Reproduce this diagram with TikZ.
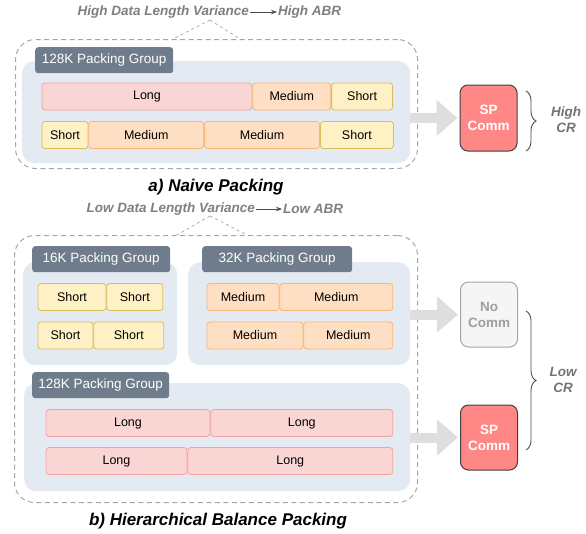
\documentclass[tikz,border=0pt]{standalone}
\usepackage{fontspec}
\setmainfont{Liberation Sans}
\usetikzlibrary{positioning,arrows.meta,decorations.pathreplacing}

\definecolor{panelbg}{HTML}{E3EAF1}
\definecolor{tagbg}{HTML}{6F7C8B}
\definecolor{longfill}{HTML}{F9D6D4}
\definecolor{longline}{HTML}{F4A3A0}
\definecolor{medfill}{HTML}{FFDFC3}
\definecolor{medline}{HTML}{FBB574}
\definecolor{shortfill}{HTML}{FFF1C6}
\definecolor{shortline}{HTML}{DDBB5E}
\definecolor{spfill}{HTML}{FF8886}
\definecolor{nofill}{HTML}{F5F5F5}
\definecolor{dashgray}{HTML}{A6A6A6}
\definecolor{capgray}{HTML}{7F7F7F}
\definecolor{fatarrow}{HTML}{DEDEDE}

\tikzset{
  seg/.style={rounded corners=3pt, line width=0.8pt, minimum height=27, inner sep=0pt, font=\fontsize{12.5}{13}\selectfont},
  longbox/.style={seg, fill=longfill, draw=longline},
  medbox/.style={seg, fill=medfill, draw=medline},
  shortbox/.style={seg, fill=shortfill, draw=shortline},
  panel/.style={fill=panelbg, rounded corners=12pt, anchor=north west, inner sep=0pt},
  tag/.style={fill=tagbg, text=white, rounded corners=3pt, anchor=north west, inner sep=0pt, minimum height=26, font=\fontsize{13.5}{14}\selectfont},
  outline/.style={draw=dashgray, dash pattern=on 5pt off 3.5pt, line width=1pt, rounded corners=20pt, anchor=north west, inner sep=0pt},
  header/.style={text=capgray, inner sep=1pt, font=\fontsize{13.5}{14}\bfseries\itshape\selectfont},
  title/.style={font=\fontsize{17}{18}\bfseries\itshape\selectfont},
  comm/.style={rounded corners=8pt, line width=1pt, minimum width=57, minimum height=66, align=center, inner sep=0pt, font=\fontsize{13.5}{16}\bfseries\selectfont},
  spcomm/.style={comm, fill=spfill, draw=black!75, text=white},
  nocomm/.style={comm, fill=nofill, draw=black!35, text=black!38},
  flow/.style={draw=fatarrow, line width=10pt, -{Triangle[length=21pt,width=35pt]}, shorten >=2pt},
  crtext/.style={text=black!55, align=center, font=\fontsize{13.5}{16}\bfseries\itshape\selectfont},
  crbrace/.style={draw=black!70, line width=0.9pt, decorate, decoration={brace, amplitude=10pt}},
  hint/.style={draw=dashgray, dash pattern=on 3pt off 3pt, line width=0.7pt},
}

\begin{document}
\begin{tikzpicture}[x=1pt,y=-1pt]
  \useasboundingbox (0,0) rectangle (586,533);

  % a) naive packing
  \node[header, anchor=east] (varA) at (250,12) {High Data Length Variance};
  \node[header, anchor=west] (abrA) at (277,12) {High ABR};
  \draw[-{Stealth[length=6pt]}, black!70, line width=0.8pt] (varA) -- (abrA);
  \node[outline, minimum width=402, minimum height=129] (boxA) at (15,39) {};
  \coordinate (tipA) at (210,20);
  \coordinate (footAl) at (173,39);
  \coordinate (footAr) at (240,39);
  \draw[hint] (tipA) -- (footAl);
  \draw[hint] (tipA) -- (footAr);

  \node[panel, minimum width=388, minimum height=102] (panA) at (22,61) {};
  \node[tag, minimum width=138] (tagA) at (35,47) {128K Packing Group};

  \node[longbox, minimum width=210] (a1) at (147,96.5) {Long};
  \node[medbox, minimum width=78, right=0pt of a1] (a2) {Medium};
  \node[shortbox, minimum width=61, right=0pt of a2] (a3) {Short};
  \node[shortbox, minimum width=46] (a4) at (65,135) {Short};
  \node[medbox, minimum width=115, right=0pt of a4] (a5) {Medium};
  \node[medbox, minimum width=115, right=0pt of a5] (a6) {Medium};
  \node[shortbox, minimum width=73, right=0pt of a6] (a7) {Short};

  \node[spcomm] (spA) at (488.5,118) {SP\\Comm};
  \draw[flow] (panA.east |- spA.west) -- (spA.west);
  \draw[crbrace] (526,91) -- (526,151);
  \node[crtext] (crA) at (566,120) {High\\CR};

  \node[title] (ttlA) at (216,187) {a) Naive Packing};

  % b) hierarchical balance packing
  \node[header, anchor=east] (varB) at (256,209) {Low Data Length Variance};
  \node[header, anchor=west] (abrB) at (282,209) {Low ABR};
  \draw[-{Stealth[length=6pt]}, black!70, line width=0.8pt] (varB) -- (abrB);
  \node[outline, minimum width=403, minimum height=267] (boxB) at (14,235) {};
  \coordinate (tipB) at (210,216);
  \coordinate (footBl) at (177,235);
  \coordinate (footBr) at (247,235);
  \draw[hint] (tipB) -- (footBl);
  \draw[hint] (tipB) -- (footBr);

  \node[panel, minimum width=154, minimum height=103] (panS) at (23,262) {};
  \node[tag, minimum width=138] (tagS) at (32,246) {16K Packing Group};
  \node[shortbox, minimum width=68] (s1) at (72,297) {Short};
  \node[shortbox, minimum width=56, right=0pt of s1] (s2) {Short};
  \node[shortbox, minimum width=55] (s3) at (65.5,335.5) {Short};
  \node[shortbox, minimum width=70, right=0pt of s3] (s4) {Short};

  \node[panel, minimum width=222, minimum height=103] (panM) at (188,262) {};
  \node[tag, minimum width=150] (tagM) at (202,246) {32K Packing Group};
  \node[medbox, minimum width=72] (m1) at (243,297) {Medium};
  \node[medbox, minimum width=113, right=0pt of m1] (m2) {Medium};
  \node[medbox, minimum width=96] (m3) at (255,335.5) {Medium};
  \node[medbox, minimum width=89, right=0pt of m3] (m4) {Medium};

  \node[panel, minimum width=386, minimum height=108] (panL) at (24,383) {};
  \node[tag, minimum width=137] (tagL) at (32,372) {128K Packing Group};
  \node[longbox, minimum width=164] (l1) at (128,423) {Long};
  \node[longbox, minimum width=182, right=0pt of l1] (l2) {Long};
  \node[longbox, minimum width=141] (l3) at (116.5,461) {Long};
  \node[longbox, minimum width=205, right=0pt of l3] (l4) {Long};

  \node[nocomm, minimum height=65] (noB) at (489,314.5) {No\\Comm};
  \node[spcomm, minimum height=65] (spB) at (489,437.5) {SP\\Comm};
  \draw[flow] (panM.east |- noB.west) -- (noB.west);
  \draw[flow] (panL.east |- spB.west) -- (spB.west);
  \draw[crbrace] (526,311) -- (526,450);
  \node[crtext] (crB) at (563,380) {Low\\CR};

  \node[title] (ttlB) at (218,521) {b) Hierarchical Balance Packing};
\end{tikzpicture}
\end{document}
